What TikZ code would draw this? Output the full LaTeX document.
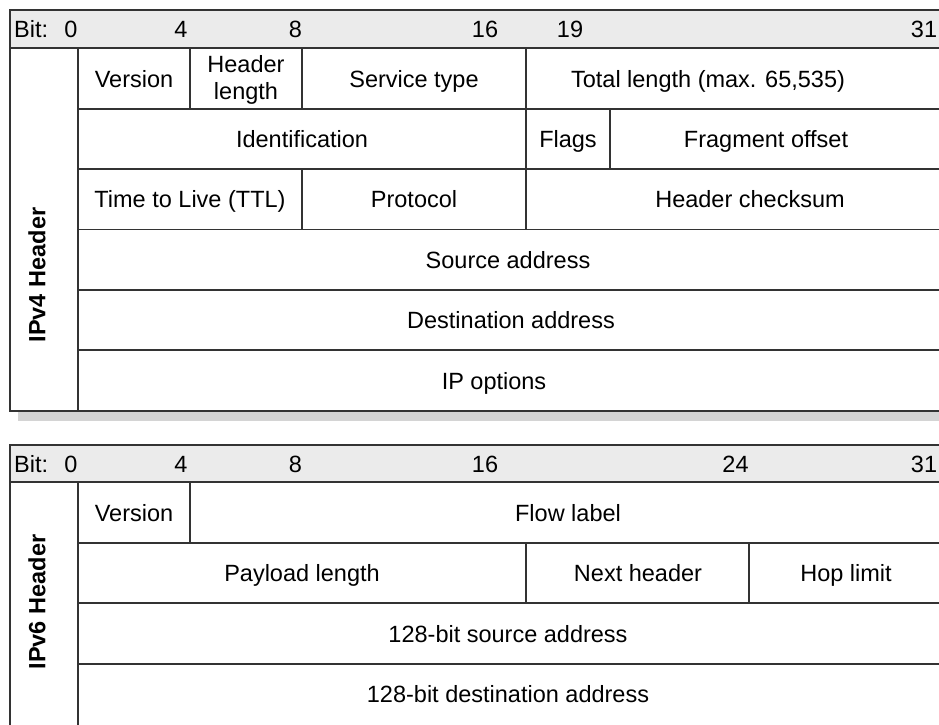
\documentclass[tikz,border=0pt]{standalone}
\usepackage{fontspec}
\setmainfont{Liberation Sans}
\definecolor{gridline}{HTML}{333333}
\definecolor{bitfill}{HTML}{EBEBEB}
\definecolor{shadowgray}{HTML}{D4D4D4}
\tikzset{
  rule/.style={draw=gridline, line width=1.3pt},
  cell/.style={anchor=base, inner sep=0pt, font=\fontsize{23.5}{28}\selectfont},
  bitlead/.style={cell, anchor=base west},
  sidelabel/.style={rotate=90, inner sep=0pt, font=\fontsize{23.5}{28}\selectfont\bfseries},
}
\begin{document}
\begin{tikzpicture}[x=1pt,y=-1pt]
\useasboundingbox (0,0) rectangle (939,724);
\clip (0,0) rectangle (939,724);
% ---------------- IPv4 table ----------------
\fill[bitfill] (10,10) rectangle (990,48);
\fill[shadowgray] (18,411) rectangle (990,421);
\draw[rule] (990,10) -- (10,10) -- (10,411) -- (990,411);
\draw[rule] (10,48) -- (990,48);
\draw[rule] (78,48) -- (78,411);
\foreach \yy in {109,169,229.5,290,350} \draw[rule] (78,\yy) -- (990,\yy);
\draw[rule] (190,48) -- (190,109);
\draw[rule] (302,48) -- (302,109);
\draw[rule] (526,48) -- (526,229.5);
\draw[rule] (610,109) -- (610,169);
\draw[rule] (302,169) -- (302,229.5);
% bit numbers
\node[bitlead] (b4lead) at (14,37.4) {Bit:};
\node[cell] (b4n0) at (71,37.4) {0};
\node[cell] (b4n4) at (181,37.4) {4};
\node[cell] (b4n8) at (295.5,37.4) {8};
\node[cell] (b4n16) at (485,37.4) {16};
\node[cell] (b4n19) at (570,37.4) {19};
\node[cell] (b4n31) at (924,37.4) {31};
% side label
\node[sidelabel] (v4label) at (37,275) {IPv4 Header};
% fields
\node[cell] (v4ver) at (134,87) {Version};
\node[cell] (v4hla) at (246,72) {Header};
\node[cell] (v4hlb) at (246,99.5) {length};
\node[cell] (v4svc) at (414,87) {Service type};
\node[cell] (v4tot) at (708,87) {Total length (max. 65,535)};
\node[cell] (v4id) at (302,147.4) {Identification};
\node[cell] (v4flg) at (568,147.4) {Flags};
\node[cell] (v4frag) at (766,147.4) {Fragment offset};
\node[cell] (v4ttl) at (190,207.7) {Time to Live (TTL)};
\node[cell] (v4prot) at (414,207.7) {Protocol};
\node[cell] (v4chk) at (750,207.7) {Header checksum};
\node[cell] (v4src) at (508,268) {Source address};
\node[cell] (v4dst) at (511,328.4) {Destination address};
\node[cell] (v4opt) at (494,389) {IP options};
% ---------------- IPv6 table ----------------
\fill[bitfill] (10,445) rectangle (990,482);
\draw[rule] (990,445) -- (10,445) -- (10,740);
\draw[rule] (10,482) -- (990,482);
\draw[rule] (78,482) -- (78,740);
\foreach \yy in {543,603,664} \draw[rule] (78,\yy) -- (990,\yy);
\draw[rule] (190,482) -- (190,543);
\draw[rule] (526,543) -- (526,603);
\draw[rule] (749,543) -- (749,603);
% bit numbers
\node[bitlead] (b6lead) at (14,472) {Bit:};
\node[cell] (b6n0) at (71,472) {0};
\node[cell] (b6n4) at (181,472) {4};
\node[cell] (b6n8) at (295.5,472) {8};
\node[cell] (b6n16) at (485,472) {16};
\node[cell] (b6n24) at (735.5,472) {24};
\node[cell] (b6n31) at (924,472) {31};
% side label
\node[sidelabel] (v6label) at (37,602) {IPv6 Header};
% fields
\node[cell] (v6ver) at (134,521) {Version};
\node[cell] (v6flow) at (568,521) {Flow label};
\node[cell] (v6pay) at (302,581.4) {Payload length};
\node[cell] (v6next) at (638,581.4) {Next header};
\node[cell] (v6hop) at (846,581.4) {Hop limit};
\node[cell] (v6src) at (508,642) {128-bit source address};
\node[cell] (v6dst) at (508,702.6) {128-bit destination address};
\end{tikzpicture}
\end{document}
